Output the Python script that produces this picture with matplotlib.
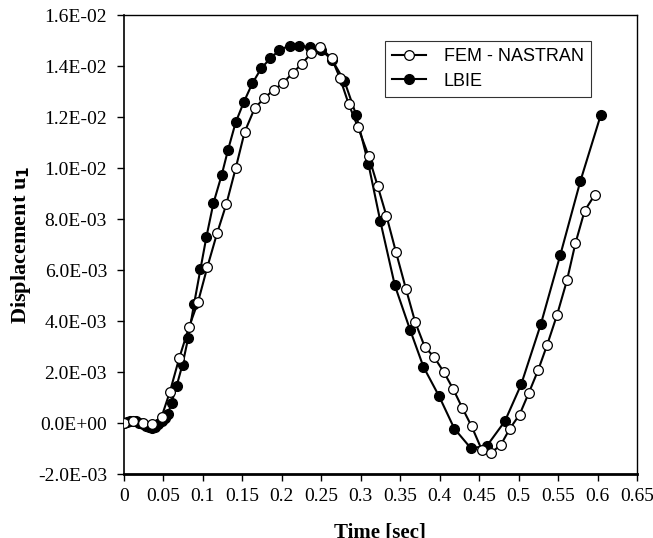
import matplotlib
matplotlib.use('Agg')
import matplotlib.pyplot as plt
import numpy as np

# FEM - NASTRAN (open circles)
fem_t = [0.0, 0.012, 0.024, 0.036, 0.048, 0.0585, 0.0702, 0.0828, 0.0942, 0.106,
         0.1182, 0.13, 0.1418, 0.1532, 0.1658, 0.1775, 0.1898, 0.2015, 0.2142, 0.2255,
         0.2374, 0.2491, 0.2634, 0.274, 0.2849, 0.2967, 0.3101, 0.3215, 0.3328, 0.3447,
         0.3573, 0.3691, 0.3813, 0.393, 0.4057, 0.4174, 0.4288, 0.4406, 0.4533, 0.4654,
         0.4773, 0.489, 0.5013, 0.513, 0.5248, 0.5361, 0.5487, 0.5614, 0.572, 0.5837,
         0.5963]
fem_u = [0.0, 0.08, 0.02, -0.02, 0.25, 1.23, 2.54, 3.78, 4.76, 6.13,
         7.44, 8.59, 9.99, 11.42, 12.34, 12.73, 13.06, 13.32, 13.74, 14.08,
         14.50, 14.73, 14.30, 13.52, 12.51, 11.60, 10.48, 9.31, 8.12, 6.72,
         5.28, 3.97, 2.99, 2.60, 1.99, 1.33, 0.60, -0.12, -1.03, -1.15,
         -0.86, -0.21, 0.34, 1.19, 2.08, 3.06, 4.24, 5.61, 7.05, 8.33,
         8.94]

# LBIE (filled circles)
lbie_t = [0.0, 0.004, 0.008, 0.012, 0.016, 0.02, 0.024, 0.028, 0.032, 0.036,
          0.04, 0.044, 0.048, 0.052, 0.0563, 0.0606, 0.0669, 0.0745, 0.0816, 0.0892,
          0.0972, 0.1048, 0.1136, 0.1241, 0.1321, 0.1418, 0.1523, 0.1629, 0.1742, 0.1856,
          0.1973, 0.21, 0.2226, 0.2365, 0.25, 0.2639, 0.2794, 0.2942, 0.310, 0.3249,
          0.3434, 0.3628, 0.3796, 0.3994, 0.4187, 0.4394, 0.4596, 0.4827, 0.5033, 0.5282,
          0.553, 0.5783, 0.6043]
lbie_u = [0.0, 0.05, 0.09, 0.10, 0.08, 0.03, -0.04, -0.10, -0.15, -0.17,
          -0.13, -0.03, 0.10, 0.20, 0.38, 0.81, 1.45, 2.30, 3.33, 4.69,
          6.04, 7.31, 8.62, 9.73, 10.71, 11.79, 12.60, 13.32, 13.91, 14.30,
          14.63, 14.80, 14.80, 14.73, 14.63, 14.24, 13.42, 12.10, 10.15, 7.93,
          5.40, 3.65, 2.21, 1.06, -0.21, -0.97, -0.90, 0.08, 1.52, 3.88,
          6.61, 9.49, 12.10]

xticks = np.arange(0, 0.651, 0.05)
yticks = np.arange(-0.002, 0.0161, 0.002)

serif = 'Liberation Serif'
sans = 'Liberation Sans'

fig = plt.figure(figsize=(6.53, 5.38), dpi=100)
ax = fig.add_axes([0.1894, 0.1184, 0.7861, 0.8537])

fem_u = np.array(fem_u) * 1e-3
lbie_u = np.array(lbie_u) * 1e-3

ax.plot(fem_t, fem_u, color='black', lw=1.5, marker='o', ms=7,
        mfc='white', mec='black', mew=0.9, label='FEM - NASTRAN', zorder=3)
ax.plot(lbie_t, lbie_u, color='black', lw=1.5, marker='o', ms=7,
        mfc='black', mec='black', label='LBIE', zorder=2)

ax.set_xlim(0, 0.65)
ax.set_ylim(-0.002, 0.016)
ax.set_xticks(xticks)
ax.set_yticks(yticks)
ax.set_xticklabels(['0' if abs(v) < 1e-9 else ('%g' % round(v, 2)) for v in xticks],
                   fontfamily=serif, fontsize=14)
ax.set_yticklabels(['%.1E' % v if abs(v) > 1e-12 else '0.0E+00' for v in yticks],
                   fontfamily=serif, fontsize=14)
ax.tick_params(axis='both', direction='out', length=5, width=1, color='black')
ax.tick_params(axis='x', pad=5)
ax.tick_params(axis='y', pad=7)
for s in ax.spines.values():
    s.set_linewidth(1)
ax.spines['bottom'].set_linewidth(2)
ax.spines['left'].set_linewidth(1.2)

ax.set_ylabel('Displacement u$_\\mathbf{1}$', fontfamily=serif, fontsize=16,
              fontweight='bold')
ax.yaxis.set_label_coords(-0.177, 0.5)
ax.set_xlabel('Time [sec]', fontfamily=serif, fontsize=15, fontweight='bold',
              va='top')
ax.xaxis.set_label_coords(0.5, -0.104)

leg = ax.legend(loc='upper left', bbox_to_anchor=(0.509, 0.943), borderaxespad=0,
                prop={'family': sans, 'size': 13}, frameon=True, fancybox=False,
                edgecolor='black', handlelength=1.85, handletextpad=1.0,
                labelspacing=0.4, borderpad=0.4)
leg.get_frame().set_linewidth(0.8)

fig.savefig('out.png', dpi=100)
